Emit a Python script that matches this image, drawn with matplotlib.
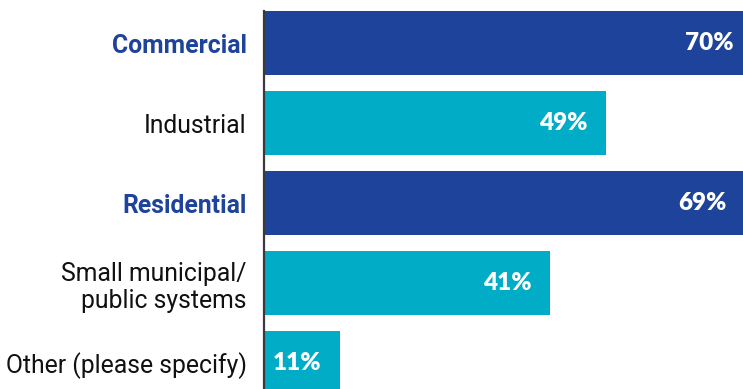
import matplotlib
matplotlib.use("Agg")
import matplotlib.pyplot as plt

categories = ["Commercial", "Industrial", "Residential",
              "Small municipal/\npublic systems", "Other (please specify)"]
values = [70, 49, 69, 41, 11]
highlight = [True, False, True, False, False]

DARK = "#1E439B"
TEAL = "#00ACC6"

W, H, DPI = 743, 389, 100
fig = plt.figure(figsize=(W / DPI, H / DPI), dpi=DPI)
# axes spans from the spine at x=263 to the right edge, top at y=11 to the bottom
ax = fig.add_axes([263.5 / W, 0, 1 - 263.5 / W, (H - 11) / H])

ypos = list(range(len(values)))
colors = [DARK if h else TEAL for h in highlight]
ax.barh(ypos, values, height=0.8, color=colors, left=0)
ax.set_xlim(0, 68.6)
ax.set_ylim(-0.4 + (H - 11) / 80, -0.4)

for y, v in zip(ypos, values):
    ax.annotate(f"{v}%", xy=(v, y), xytext=(-13.5, 0), textcoords="offset points",
                ha="right", va="center", annotation_clip=False,
                color="white", fontsize=17.5, fontweight="heavy", family="Lato")

ax.set_yticks(ypos)
ax.set_yticklabels(categories, fontsize=17.8, family="Roboto")
for lbl, h in zip(ax.get_yticklabels(), highlight):
    lbl.set_multialignment("right")
    if h:
        lbl.set_color(DARK)
        lbl.set_fontweight("bold")
    else:
        lbl.set_color("#111111")
ax.tick_params(axis="y", length=0, pad=12)
ax.set_xticks([])
for s in ["top", "right", "bottom"]:
    ax.spines[s].set_visible(False)
ax.spines["left"].set_color("#3a3a3a")
ax.spines["left"].set_linewidth(1.6)

fig.savefig("out.png", dpi=DPI)
